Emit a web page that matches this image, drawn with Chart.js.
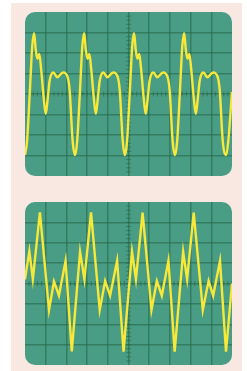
<!DOCTYPE html>
<html>
<head>
<meta charset="utf-8">
<script src="https://cdn.jsdelivr.net/npm/chart.js@4/dist/chart.umd.min.js"></script>
<style>
  html, body { margin: 0; padding: 0; background: #ffffff; }
  #page { position: relative; width: 247px; height: 371px; overflow: hidden; }
  #panel { position: absolute; left: 11px; top: 3px; width: 231px; height: 368px; background: #f9e8e1; }
  .scope { position: absolute; left: 25px; width: 207px; }
  #scope1 { top: 12px; height: 164px; }
  #scope2 { top: 202px; height: 163px; }
</style>
</head>
<body>
<div id="page">
  <div id="panel"></div>
  <div class="scope" id="scope1"><canvas id="c1" width="207" height="164"></canvas></div>
  <div class="scope" id="scope2"><canvas id="c2" width="207" height="163"></canvas></div>
</div>
<script>
// screen divisions
var divX = [0, 10];
var divY = [-4, 4];

// top trace (smooth), x in divisions, y in divisions
var trace1X = [
  0.00, 0.10, 0.24, 0.35, 0.44, 0.52, 0.60, 0.69, 0.78, 0.90, 1.00, 1.09, 1.19, 1.37, 1.56, 1.84, 2.06, 2.16, 2.30,
  2.42, 2.52, 2.66, 2.77, 2.86, 2.94, 3.02, 3.11, 3.20, 3.32, 3.42, 3.51, 3.61, 3.79, 3.98, 4.26, 4.48, 4.58, 4.72,
  4.83, 4.93, 5.07, 5.18, 5.27, 5.35, 5.43, 5.52, 5.61, 5.73, 5.83, 5.92, 6.02, 6.20, 6.39, 6.67, 6.89, 6.99, 7.13,
  7.25, 7.35, 7.49, 7.60, 7.69, 7.77, 7.85, 7.94, 8.03, 8.15, 8.25, 8.34, 8.44, 8.62, 8.81, 9.09, 9.31, 9.41, 9.55,
  9.72, 9.82, 10.0
];
var trace1Y = [
  -2.98, -2.30, 0.25, 2.35, 2.97, 2.15, 1.72, 1.95, 1.20, -0.15, -0.97, -0.30, 0.65, 1.05, 0.82, 1.05, 0.82, 0.15, -2.27,
  -2.98, -2.30, 0.25, 2.35, 2.97, 2.15, 1.72, 1.95, 1.20, -0.15, -0.97, -0.30, 0.65, 1.05, 0.82, 1.05, 0.82, 0.15, -2.27,
  -2.98, -2.30, 0.25, 2.35, 2.97, 2.15, 1.72, 1.95, 1.20, -0.15, -0.97, -0.30, 0.65, 1.05, 0.82, 1.05, 0.82, 0.15, -2.27,
  -2.98, -2.30, 0.25, 2.35, 2.97, 2.15, 1.72, 1.95, 1.20, -0.15, -0.97, -0.30, 0.65, 1.05, 0.82, 1.05, 0.82, 0.15, -2.27,
  -2.98, -2.30, 0.10
];

// bottom trace (zigzag)
var trace2X = [
  0.00, 0.21, 0.38, 0.72, 1.16, 1.40, 1.64, 1.96, 2.26,
  2.66, 2.87, 3.19, 3.61, 3.87, 4.11, 4.45, 4.76,
  5.17, 5.36, 5.68, 6.11, 6.37, 6.61, 6.93, 7.23,
  7.64, 7.83, 8.15, 8.59, 8.87, 9.09, 9.42, 9.71, 10.0
];
var trace2Y = [
  0.20, 1.59, 0.21, 3.49, -1.30, 0.10, -0.60, 1.11, -3.33,
  1.56, 0.21, 3.49, -1.30, 0.12, -0.60, 1.12, -3.34,
  1.56, 0.21, 3.48, -1.30, 0.12, -0.60, 1.12, -3.34,
  1.56, 0.21, 3.48, -1.30, 0.13, -0.60, 1.12, -3.35, 0.00
];

var screenGreen = '#4a9d85';
var gridGreen = 'rgba(38,104,72,0.6)';
var traceYellow = '#f7e83a';

function toPoints(xs, ys) {
  var out = [];
  for (var i = 0; i < xs.length; i++) out.push({ x: xs[i], y: ys[i] });
  return out;
}

var scopeScreen = {
  id: 'scopeScreen',
  beforeDraw: function(chart) {
    var a = chart.chartArea, ctx = chart.ctx, r = 10;
    ctx.save();
    ctx.fillStyle = screenGreen;
    ctx.beginPath();
    ctx.roundRect(a.left, a.top, a.right - a.left, a.bottom - a.top, r);
    ctx.fill();
    ctx.restore();
  },
  beforeDatasetsDraw: function(chart) {
    // small ticks along the centre lines
    var ctx = chart.ctx, xs = chart.scales.x, ys = chart.scales.y;
    var cx = xs.getPixelForValue(5), cy = ys.getPixelForValue(0);
    ctx.save();
    ctx.strokeStyle = gridGreen;
    ctx.lineWidth = 1;
    ctx.beginPath();
    for (var v = divX[0] + 0.2; v < divX[1]; v += 0.2) {
      var px = xs.getPixelForValue(v);
      ctx.moveTo(px, cy - 2.5); ctx.lineTo(px, cy + 2.5);
    }
    for (var w = divY[0] + 0.2; w < divY[1]; w += 0.2) {
      var py = ys.getPixelForValue(w);
      ctx.moveTo(cx - 2.5, py); ctx.lineTo(cx + 2.5, py);
    }
    ctx.stroke();
    ctx.restore();
  }
};

function gridColor(lo, hi) {
  return function(c) {
    if (!c.tick) return gridGreen;
    return (c.tick.value === lo || c.tick.value === hi) ? 'rgba(0,0,0,0)' : gridGreen;
  };
}

function makeScope(id, xs, ys, smooth) {
  return new Chart(document.getElementById(id), {
    type: 'line',
    data: {
      datasets: [{
        data: toPoints(xs, ys),
        borderColor: traceYellow,
        borderWidth: 2.4,
        pointRadius: 0,
        fill: false,
        tension: 0,
        cubicInterpolationMode: smooth ? 'monotone' : 'default',
        borderJoinStyle: smooth ? 'round' : 'miter',
        clip: 2
      }]
    },
    options: {
      responsive: false,
      animation: false,
      devicePixelRatio: 1,
      layout: { padding: 0 },
      plugins: { legend: { display: false }, tooltip: { enabled: false } },
      scales: {
        x: {
          type: 'linear', min: divX[0], max: divX[1],
          ticks: { display: false, stepSize: 1 },
          grid: { drawTicks: false, lineWidth: 1.5, color: gridColor(divX[0], divX[1]) },
          border: { display: false }
        },
        y: {
          type: 'linear', min: divY[0], max: divY[1],
          ticks: { display: false, stepSize: 1 },
          grid: { drawTicks: false, lineWidth: 1.5, color: gridColor(divY[0], divY[1]) },
          border: { display: false }
        }
      }
    },
    plugins: [scopeScreen]
  });
}

makeScope('c1', trace1X, trace1Y, true);
makeScope('c2', trace2X, trace2Y, false);
</script>
</body>
</html>
